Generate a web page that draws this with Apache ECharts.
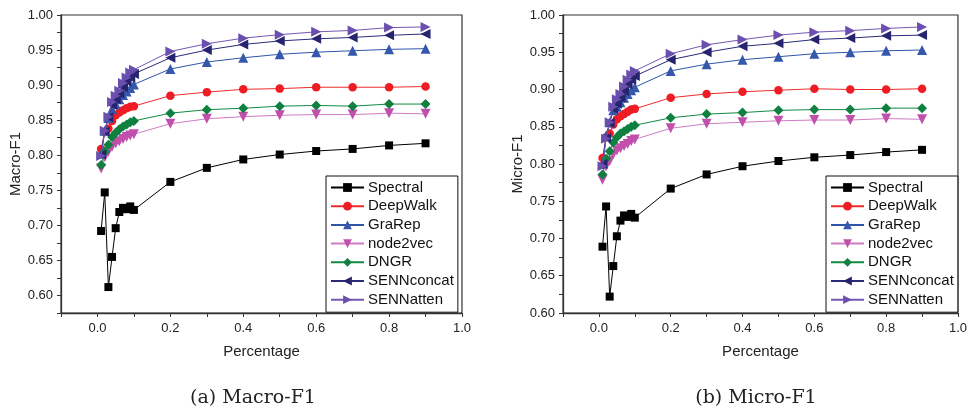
<!DOCTYPE html>
<html><head><meta charset="utf-8">
<script src="https://cdn.jsdelivr.net/npm/echarts@6/dist/echarts.min.js"></script>
<style>html,body{margin:0;padding:0;background:#fff}#c{width:970px;height:412px}</style>
</head><body><div id="c"></div>
<script>
const percentages = [0.01,0.02,0.03,0.04,0.05,0.06,0.07,0.08,0.09,0.10,0.2,0.3,0.4,0.5,0.6,0.7,0.8,0.9];
const seriesNames = ['Spectral','DeepWalk','GraRep','node2vec','DNGR','SENNconcat','SENNatten'];

const macroSpectral   = [0.692,0.747,0.612,0.655,0.696,0.719,0.725,0.723,0.727,0.722,0.762,0.782,0.794,0.801,0.806,0.809,0.814,0.817];
const macroDeepWalk   = [0.809,0.833,0.838,0.849,0.857,0.861,0.864,0.867,0.869,0.870,0.885,0.890,0.894,0.895,0.897,0.897,0.897,0.898];
const macroGraRep     = [0.802,0.835,0.853,0.866,0.873,0.880,0.886,0.891,0.896,0.901,0.923,0.933,0.939,0.944,0.947,0.949,0.951,0.952];
const macroNode2vec   = [0.781,0.797,0.805,0.812,0.817,0.820,0.823,0.826,0.828,0.830,0.845,0.852,0.855,0.857,0.858,0.858,0.860,0.859];
const macroDNGR       = [0.786,0.805,0.815,0.826,0.832,0.837,0.841,0.844,0.847,0.849,0.860,0.865,0.867,0.870,0.871,0.870,0.873,0.873];
const macroSENNconcat = [0.801,0.834,0.854,0.872,0.880,0.888,0.897,0.905,0.911,0.916,0.939,0.950,0.958,0.963,0.966,0.968,0.971,0.973];
const macroSENNatten  = [0.799,0.835,0.855,0.876,0.885,0.892,0.903,0.911,0.918,0.922,0.948,0.959,0.967,0.972,0.976,0.978,0.982,0.983];

const microSpectral   = [0.689,0.743,0.622,0.663,0.703,0.724,0.731,0.729,0.733,0.728,0.767,0.786,0.797,0.804,0.809,0.812,0.816,0.819];
const microDeepWalk   = [0.808,0.836,0.841,0.853,0.860,0.864,0.867,0.870,0.873,0.874,0.889,0.894,0.897,0.899,0.901,0.900,0.900,0.901];
const microGraRep     = [0.800,0.838,0.856,0.872,0.877,0.883,0.889,0.894,0.899,0.903,0.925,0.934,0.940,0.944,0.948,0.950,0.952,0.953];
const microNode2vec   = [0.779,0.797,0.804,0.813,0.818,0.821,0.824,0.827,0.831,0.833,0.848,0.854,0.856,0.858,0.859,0.859,0.861,0.860];
const microDNGR       = [0.786,0.807,0.817,0.829,0.836,0.841,0.844,0.847,0.850,0.852,0.862,0.867,0.869,0.872,0.873,0.873,0.875,0.875];
const microSENNconcat = [0.800,0.835,0.855,0.874,0.881,0.889,0.898,0.907,0.913,0.918,0.940,0.950,0.958,0.962,0.967,0.969,0.972,0.973];
const microSENNatten  = [0.797,0.834,0.856,0.877,0.887,0.894,0.904,0.913,0.920,0.925,0.948,0.960,0.967,0.973,0.977,0.979,0.982,0.984];

const macroValues = [macroSpectral,macroDeepWalk,macroGraRep,macroNode2vec,macroDNGR,macroSENNconcat,macroSENNatten];
const microValues = [microSpectral,microDeepWalk,microGraRep,microNode2vec,microDNGR,microSENNconcat,microSENNatten];

const styles = [
  {symbol:'rect', rot:0, size:8, line:'#000000', mark:'#000000'},
  {symbol:'circle', rot:0, size:8.5, line:'#ee2a2a', mark:'#ee1c24'},
  {symbol:'triangle', rot:0, size:10, line:'#2f55a8', mark:'#3658ac'},
  {symbol:'triangle', rot:180, size:10, line:'#d07cc4', mark:'#c050ac'},
  {symbol:'diamond', rot:0, size:10, line:'#118a44', mark:'#0f8040'},
  {symbol:'triangle', rot:90, size:10, line:'#2a2a7a', mark:'#26246e'},
  {symbol:'triangle', rot:-90, size:10, line:'#7358b4', mark:'#6a4fae'}
];

const font = 'Liberation Sans, Arial, sans-serif';
const chart = echarts.init(document.getElementById('c'), null, {renderer:'canvas'});

function near(v, step){ const q = v/step; return Math.abs(q - Math.round(q)) < 1e-6; }

function xAxis(gi){
  return {
    type:'value', gridIndex:gi, min:-0.1, max:1.0, interval:0.1,
    name:'Percentage', nameLocation:'middle', nameGap:31,
    nameTextStyle:{fontFamily:font, fontSize:15, color:'#222'},
    axisLine:{onZero:false, lineStyle:{color:'#333', width:1.3}},
    axisTick:{show:true, length:4, lineStyle:{color:'#333'}},
    axisLabel:{fontFamily:font, fontSize:13, color:'#222', margin:9,
      formatter:v => (near(v,0.2) && v > -0.05) ? v.toFixed(1) : ''},
    splitLine:{show:false}
  };
}
function yAxis(gi, name, min, gap){
  return {
    type:'value', gridIndex:gi, min:min, max:1.0, interval:0.025,
    name:name, nameLocation:'middle', nameGap:gap,
    nameTextStyle:{fontFamily:font, fontSize:15, color:'#222'},
    axisLine:{onZero:false, lineStyle:{color:'#333', width:1.3}},
    axisTick:{show:true, length:4, lineStyle:{color:'#333'}},
    axisLabel:{fontFamily:font, fontSize:13, color:'#222', margin:8,
      formatter:v => near(v,0.05) ? v.toFixed(2) : ''},
    splitLine:{show:false}
  };
}
function makeSeries(values, gi){
  return seriesNames.map((n,i)=>({
    name:n, type:'line', xAxisIndex:gi, yAxisIndex:gi,
    data: percentages.map((x,k)=>[x, values[i][k]]),
    symbol:styles[i].symbol, symbolRotate:styles[i].rot, symbolSize:styles[i].size,
    showAllSymbol:true,
    lineStyle:{color:styles[i].line, width:1},
    itemStyle:{color:styles[i].mark},
    emphasis:{disabled:true}, animation:false, z:2+i
  }));
}
function legend(gi, left){
  return {
    data:seriesNames, orient:'vertical', left:left, top:176,
    itemWidth:33, itemHeight:11, itemGap:3.7,
    padding:[4,4,5,4], borderColor:'#111', borderWidth:1, backgroundColor:'#fff',
    textStyle:{fontFamily:font, fontSize:15, color:'#111', padding:[0,0,0,-1]},
    selectedMode:false
  };
}

const option = {
  animation:false,
  grid:[
    {left:61, right:508, top:15, bottom:99, show:true, borderColor:'#333', borderWidth:1.2, backgroundColor:'transparent'},
    {left:563, right:7, top:15, bottom:99, show:true, borderColor:'#333', borderWidth:1.2, backgroundColor:'transparent'}
  ],
  xAxis:[xAxis(0), xAxis(1)],
  yAxis:[yAxis(0,'Macro-F1',0.575,37), yAxis(1,'Micro-F1',0.60,38)],
  legend:[legend(0,326), legend(1,826)],
  series:[...makeSeries(macroValues,0), ...makeSeries(microValues,1)],
  graphic:[
    {type:'text', x:253, y:398, style:{text:'(a) Macro-F1', font:'19px "DejaVu Serif", serif', fill:'#222', align:'center', verticalAlign:'middle'}},
    {type:'text', x:756, y:398, style:{text:'(b) Micro-F1', font:'19px "DejaVu Serif", serif', fill:'#222', align:'center', verticalAlign:'middle'}}
  ]
};
chart.setOption(option);
</script></body></html>
